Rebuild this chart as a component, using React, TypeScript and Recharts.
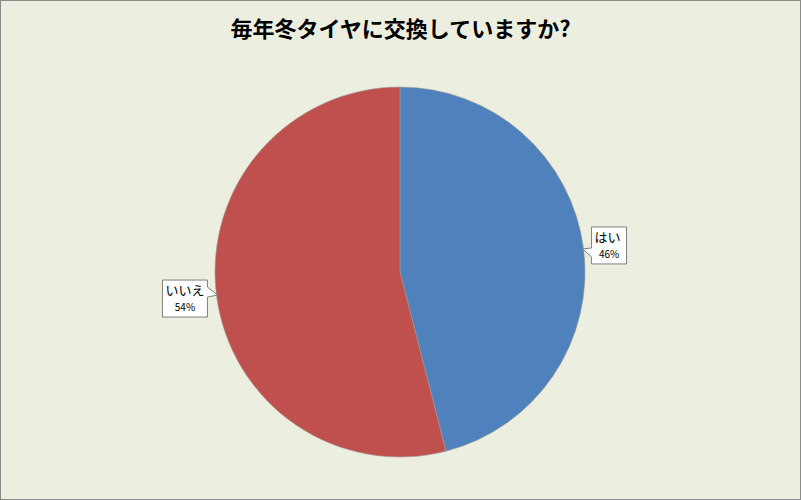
import React from 'react';
import { PieChart, Pie, Cell } from 'recharts';

const categories = ['はい', 'いいえ'];
const shares = [46, 54];
const SLICE_COLORS = ['#4F81BD', '#C0504D'];
const TITLE = '毎年冬タイヤに交換していますか?';

const pieData = categories.map((name, i) => ({ name, value: shares[i] }));

const FONT = '"Noto Sans CJK JP", "MS UI Gothic", sans-serif';

// callout box with a little pointer to the slice edge
const renderCallout = (props: any) => {
  const { cx, cy, midAngle, outerRadius, name, value, index } = props;
  const RADIAN = Math.PI / 180;
  const tx = cx + (outerRadius - 1) * Math.cos(-midAngle * RADIAN);
  const ty = cy + (outerRadius - 1) * Math.sin(-midAngle * RADIAN);
  const right = tx > cx;
  const w = right ? 35 : 45;
  const h = 37;
  const gap = right ? 9 : 10;
  const x0 = right ? tx + gap : tx - gap - w;
  const y0 = right ? ty - 22 : ty - 15;
  const x1 = x0 + w;
  const y1 = y0 + h;
  const b0 = right ? ty - 1 : ty - 8;
  const b1 = right ? ty + 8 : ty + 2;
  const d = right
    ? `M${x0},${y0} L${x1},${y0} L${x1},${y1} L${x0},${y1} L${x0},${b1} L${tx},${ty} L${x0},${b0} Z`
    : `M${x0},${y0} L${x1},${y0} L${x1},${b0} L${tx},${ty} L${x1},${b1} L${x1},${y1} L${x0},${y1} Z`;
  return (
    <g key={`lbl-${index}`}>
      <path d={d} fill="#fff" stroke="#7f7f7f" strokeWidth={1} />
      <text x={x0 + 3} y={y0 + 15} fill="#000" fontSize={13} fontFamily={FONT}>{name}</text>
      <text x={x0 + w / 2} y={y0 + 31} fill="#000" fontSize={10} textAnchor="middle" fontFamily={FONT}>{`${value}%`}</text>
    </g>
  );
};

export default function App() {
  return (
    <div style={{ position: 'absolute', left: 0, top: 0, width: 801, height: 500, boxSizing: 'border-box', background: '#ECEFE0', border: '1px solid #8a8a8a' }}>
      <div style={{ position: 'absolute', left: 0, top: 12, width: 799, textAlign: 'center', fontFamily: FONT, fontWeight: 'bold', fontSize: 22, lineHeight: '28px', color: '#000' }}>
        {TITLE}
      </div>
      <div style={{ position: 'absolute', left: -1, top: -1 }}>
        <PieChart width={801} height={500} margin={{ top: 0, right: 0, bottom: 0, left: 0 }}>
          <Pie
            data={pieData}
            dataKey="value"
            nameKey="name"
            cx={400}
            cy={272}
            outerRadius={185}
            startAngle={90}
            endAngle={-270}
            stroke="#9a9a9a"
            strokeWidth={0.6}
            labelLine={false}
            label={renderCallout}
            isAnimationActive={false}
          >
            {pieData.map((entry, index) => (
              <Cell key={`cell-${index}`} fill={SLICE_COLORS[index]} />
            ))}
          </Pie>
        </PieChart>
      </div>
    </div>
  );
}
